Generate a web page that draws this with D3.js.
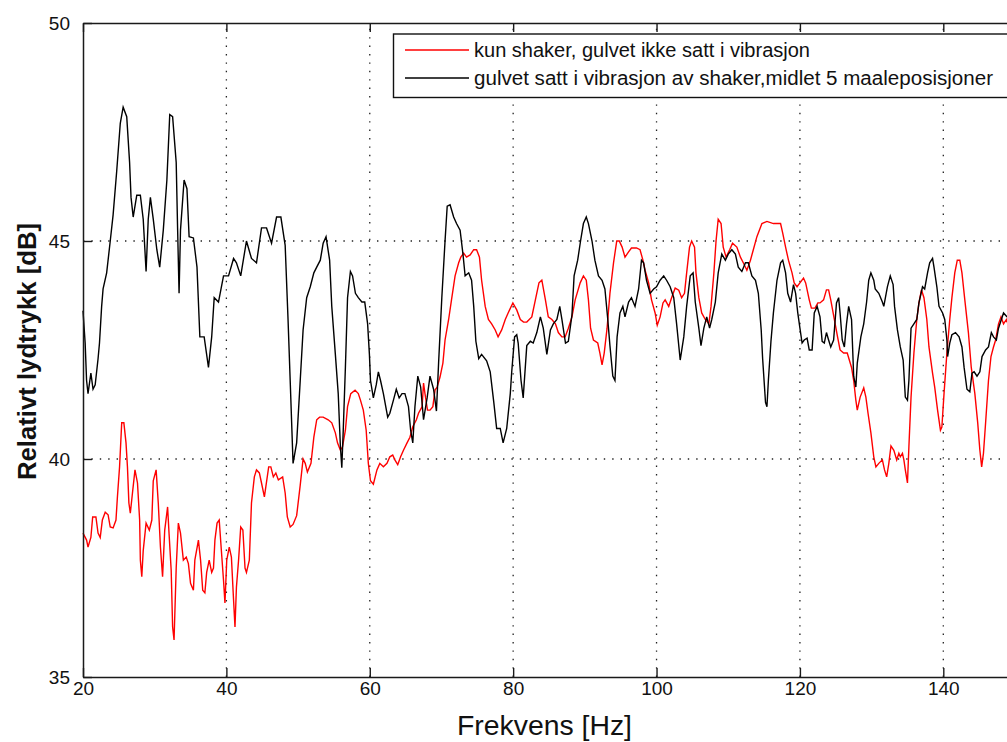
<!DOCTYPE html>
<html>
<head>
<meta charset="utf-8">
<script src="https://cdn.jsdelivr.net/npm/d3@7"></script>
<style>
  html, body { margin: 0; padding: 0; background: #fff; overflow: hidden; }
  svg { display: block; font-family: "Liberation Sans", Arial, sans-serif; }
</style>
</head>
<body>
<svg id="chart" width="1007" height="742"></svg>
<script>
// Series 1: shaker only, floor not excited
const freqRed = [20.0,20.5,20.7,21.1,21.35,21.8,22.1,22.4,22.7,23.1,23.5,23.8,24.2,24.6,24.8,25.1,25.4,25.7,26.0,26.2,26.4,26.6,26.9,27.25,27.6,27.9,28.0,28.2,28.4,28.8,29.25,29.6,29.8,30.2,30.5,30.8,31.1,31.4,31.8,32.0,32.3,32.5,32.7,33.0,33.3,33.6,34.0,34.4,34.7,35.0,35.4,35.6,36.1,36.4,36.7,37.0,37.25,37.6,37.95,38.2,38.4,38.7,39.0,39.3,39.6,39.8,40.05,40.4,40.7,41.0,41.2,41.4,41.7,42.0,42.3,42.6,42.8,43.2,43.5,43.9,44.2,44.6,44.9,45.3,45.5,45.9,46.2,46.55,46.9,47.25,47.85,48.2,48.5,48.9,49.3,49.8,50.3,50.7,51.0,51.3,51.8,52.2,52.6,53.0,53.5,54.2,54.7,55.2,55.5,55.9,56.2,56.6,56.9,57.35,57.95,58.4,58.7,59.1,59.5,59.8,60.1,60.5,61.0,61.4,61.9,62.4,62.8,63.2,63.5,63.9,64.3,64.7,65.2,65.6,66.0,66.5,66.8,67.3,67.5,67.7,68.05,68.4,68.8,69.1,69.4,69.8,70.2,70.5,71.0,71.4,71.9,72.4,72.7,73.1,73.5,74.0,74.5,74.9,75.3,75.6,76.1,76.55,77.0,77.5,77.9,78.4,78.9,79.3,79.96,80.5,81.0,81.45,81.9,82.6,83.1,83.6,84.0,84.5,84.9,85.4,85.9,86.3,86.8,87.25,87.7,88.2,88.65,89.35,89.8,90.2,90.5,90.8,91.2,91.8,92.1,92.4,92.7,93.1,93.5,94.0,94.45,94.8,95.2,95.6,96.1,96.5,97.2,97.7,98.1,98.4,98.9,99.3,99.8,100.1,100.5,100.9,101.2,101.7,102.1,102.6,103.1,103.5,103.9,104.2,104.6,104.9,105.3,105.5,105.9,106.3,106.8,107.3,107.6,108.0,108.3,108.6,109.0,109.3,109.7,110.2,110.6,111.2,111.7,112.1,112.6,113.1,113.5,114.0,114.7,115.4,116.3,117.3,117.6,118.0,118.4,118.9,119.2,119.6,120.0,120.5,120.8,121.3,121.6,122.1,122.5,122.8,123.3,123.7,124.0,124.3,124.8,125.25,125.6,126.1,126.6,127.2,127.5,127.8,128.0,128.4,128.9,129.2,129.5,129.9,130.3,130.6,131.0,131.5,131.8,132.1,132.4,132.7,133.1,133.5,133.8,134.0,134.3,134.5,134.7,135.0,135.2,135.5,135.9,136.3,136.6,136.95,137.3,137.7,138.0,138.5,138.8,139.2,139.6,139.8,140.1,140.5,140.9,141.2,141.6,141.95,142.3,142.6,143.0,143.5,143.9,144.4,144.8,145.1,145.35,145.6,145.9,146.3,146.65,147.0,147.3,147.7,148.05,148.4,148.8,149.0,150.0];
const dbRed = [38.3,38.14,37.98,38.2,38.67,38.67,38.3,38.2,38.6,38.78,38.72,38.44,38.42,38.6,39.13,39.82,40.83,40.83,40.37,39.82,38.99,38.76,39.22,39.75,39.45,38.6,37.68,37.3,37.9,38.53,38.37,38.6,39.5,39.75,38.99,37.98,37.3,38.37,38.9,38.3,37.45,36.15,35.85,37.5,38.53,38.3,37.68,37.75,37.6,37.15,36.99,37.68,38.14,37.68,36.99,36.93,37.4,37.68,37.4,37.5,38.14,38.53,38.6,37.9,37.22,36.7,37.68,37.98,37.75,36.77,36.15,37.06,37.68,38.44,38.37,37.5,37.4,37.68,38.99,39.59,39.75,39.68,39.45,39.13,39.36,39.82,39.82,39.59,39.68,39.52,39.59,39.22,38.67,38.44,38.5,38.7,39.4,40.0,39.9,39.7,39.9,40.5,40.9,40.96,40.96,40.9,40.83,40.6,40.37,40.2,40.28,40.66,41.2,41.5,41.58,41.5,41.35,41.12,40.66,39.9,39.5,39.42,39.75,39.9,39.82,39.9,40.05,40.09,39.98,39.87,40.05,40.2,40.37,40.5,40.74,40.9,41.05,41.2,41.74,41.5,41.12,41.12,41.2,41.58,41.65,41.88,42.2,42.73,43.2,43.65,44.2,44.5,44.63,44.72,44.63,44.68,44.8,44.8,44.63,44.1,43.5,43.2,43.1,42.96,42.8,42.96,43.2,43.35,43.58,43.42,43.2,43.14,43.14,43.26,43.65,44.04,44.1,43.65,43.26,43.2,43.1,42.9,42.8,42.8,43.0,43.26,43.65,44.04,44.2,44.1,43.65,43.0,42.73,42.66,42.43,42.16,42.43,43.0,43.8,44.5,45.0,45.0,44.86,44.63,44.75,44.84,44.84,44.8,44.56,44.33,44.04,43.65,43.35,43.07,43.26,43.58,43.65,43.5,43.7,43.92,43.87,43.7,43.8,44.27,44.86,45.0,44.86,44.27,43.7,43.35,43.2,43.1,43.5,44.27,45.0,45.5,45.4,44.86,44.63,44.8,44.95,44.86,44.63,44.5,44.33,44.56,44.8,45.1,45.4,45.45,45.4,45.4,45.18,44.86,44.56,44.27,44.04,43.95,44.04,44.15,44.04,43.65,43.46,43.46,43.58,43.58,43.65,43.88,43.88,43.65,43.2,42.8,42.5,42.43,42.43,42.1,41.8,41.35,41.12,41.42,41.63,41.42,41.05,40.6,40.05,39.82,39.9,39.98,39.75,39.59,39.9,40.3,40.2,39.98,40.13,40.05,40.13,39.98,39.75,39.45,40.28,41.42,42.43,43.2,43.58,43.88,43.7,43.2,42.57,41.97,41.65,41.12,40.66,40.73,41.5,42.43,43.2,43.7,44.27,44.56,44.56,44.27,43.65,42.9,42.1,41.5,40.83,40.2,39.82,40.13,40.83,41.8,42.35,42.57,42.73,43.1,43.26,43.1,43.2,43.1,43.2];

// Series 2: floor excited by shaker, mean of 5 positions
const freqBlack = [20.0,20.3,20.5,20.7,21.1,21.4,21.7,22.1,22.3,22.6,22.8,23.3,23.8,24.2,24.7,25.2,25.6,26.1,26.5,26.7,27.0,27.5,28.0,28.4,28.8,29.1,29.4,29.8,30.3,30.7,31.2,31.7,32.1,32.5,33.0,33.2,33.4,33.6,34.1,34.5,34.8,35.4,35.9,36.3,36.9,37.5,37.95,38.3,38.9,39.6,40.3,41.0,41.4,42.0,42.8,43.5,44.2,44.9,45.6,46.3,47.0,47.6,48.2,48.6,48.9,49.3,49.8,50.3,50.7,51.2,51.7,52.2,52.6,53.1,53.5,53.9,54.4,54.7,55.2,55.6,55.9,56.1,56.3,56.6,56.9,57.3,57.6,58.0,58.4,58.9,59.3,59.7,59.95,60.1,60.5,60.9,61.2,61.5,61.9,62.5,62.8,63.3,63.7,64.1,64.5,64.9,65.4,65.7,66.0,66.3,66.7,67.1,67.5,68.0,68.4,68.9,69.3,69.6,70.05,70.5,70.8,71.2,71.7,72.1,72.6,73.0,73.3,73.8,74.2,74.5,74.8,75.2,75.6,76.3,76.8,77.3,77.7,78.2,78.6,79.1,79.6,79.8,80.2,80.5,80.7,81.1,81.4,81.9,82.4,82.8,83.3,83.8,84.2,84.7,85.2,85.6,86.1,86.5,86.8,87.3,87.7,88.2,88.5,89.0,89.4,89.8,90.2,90.5,91.0,91.4,91.9,92.4,92.8,93.2,93.5,93.9,94.2,94.5,94.9,95.3,95.6,96.1,96.5,97.0,97.5,97.9,98.2,98.6,99.1,99.6,100.0,100.5,101.0,101.4,101.9,102.4,102.8,103.3,103.8,104.2,104.7,105.1,105.4,105.9,106.2,106.6,107.0,107.4,107.7,108.2,108.6,109.1,109.6,110.0,110.5,111.0,111.4,111.9,112.4,112.8,113.3,113.8,114.2,114.6,114.8,115.2,115.4,115.6,115.96,116.3,116.8,117.3,117.6,118.0,118.3,118.7,119.1,119.4,119.7,120.0,120.3,120.6,121.0,121.3,121.7,122.0,122.4,122.8,123.1,123.4,123.7,124.0,124.3,124.7,125.1,125.4,125.6,125.9,126.2,126.5,126.8,127.2,127.5,127.8,128.0,128.5,128.9,129.3,129.6,129.9,130.3,130.5,131.0,131.5,131.7,132.2,132.6,133.0,133.2,133.6,134.0,134.4,134.7,135.0,135.2,135.5,135.9,136.3,136.6,137.1,137.4,137.8,138.1,138.5,138.7,139.1,139.4,139.9,140.2,140.5,140.6,140.9,141.2,141.7,142.2,142.6,142.9,143.3,143.7,144.0,144.3,144.7,145.1,145.4,145.9,146.3,146.7,147.0,147.4,147.7,148.1,148.4,148.9,149.5,150.0];
const dbBlack = [43.4,42.66,41.8,41.5,41.97,41.6,41.7,42.3,42.66,43.5,43.9,44.27,45.0,45.6,46.6,47.7,48.07,47.85,46.8,46.0,45.55,46.05,46.05,45.5,44.3,45.5,46.0,45.5,44.8,44.4,45.25,46.4,47.9,47.85,46.8,45.25,43.8,45.25,46.4,46.2,45.1,45.07,44.4,42.8,42.8,42.1,42.8,43.7,43.6,44.2,44.2,44.6,44.5,44.2,45.0,44.6,44.5,45.3,45.3,44.95,45.55,45.55,44.9,43.2,41.8,39.9,40.37,41.8,42.96,43.7,43.95,44.27,44.4,44.56,44.95,45.1,44.56,43.5,42.4,41.5,40.3,39.8,40.66,42.1,43.7,44.3,44.2,43.8,43.7,43.6,43.6,43.1,42.4,41.8,41.4,41.7,42.0,41.8,41.5,40.96,41.05,41.35,41.6,41.4,41.5,41.5,41.2,40.66,40.37,41.2,41.9,41.65,40.9,41.4,41.9,41.6,41.1,42.2,43.7,45.0,45.8,45.83,45.55,45.4,45.25,44.7,44.2,44.27,44.1,43.5,42.7,42.3,42.4,42.25,42.0,41.3,40.7,40.7,40.37,40.7,41.5,42.0,42.8,42.85,42.66,41.8,41.4,42.6,42.7,42.66,42.9,43.26,43.0,42.4,42.96,43.1,43.2,43.5,43.2,42.66,42.7,43.3,44.2,44.56,45.0,45.4,45.55,45.4,45.0,44.56,44.2,44.1,43.9,43.2,42.6,41.9,41.8,42.8,43.35,43.5,43.26,43.6,43.7,43.5,43.9,44.56,44.5,44.1,43.8,43.9,43.95,44.1,44.2,44.1,43.95,43.7,43.1,42.27,42.8,43.5,44.2,44.27,43.6,43.0,42.6,43.0,43.26,43.0,43.2,43.6,44.27,44.7,44.56,44.7,44.8,44.7,44.4,44.3,44.5,44.5,44.2,44.1,43.8,42.96,42.3,41.3,41.2,41.8,42.7,43.35,44.1,44.5,44.56,44.27,43.8,43.6,44.0,43.8,43.35,43.0,42.66,42.73,42.77,42.5,42.5,43.35,43.5,43.26,42.7,42.66,42.9,42.73,42.57,42.73,43.58,43.7,43.35,42.73,42.57,43.1,43.5,43.2,41.9,41.65,42.2,42.8,43.1,43.6,44.1,44.27,44.1,43.9,43.8,43.6,43.5,43.95,44.2,44.0,43.5,42.96,42.57,42.27,41.42,41.35,41.8,43.0,43.1,43.2,43.58,43.95,43.9,44.27,44.5,44.6,44.4,43.95,43.5,43.35,43.2,42.73,42.35,42.66,42.85,42.9,42.8,42.57,42.1,41.6,41.54,41.97,42.0,41.9,42.0,42.35,42.5,42.57,42.9,42.8,42.73,43.0,43.2,43.35,43.26,43.2,43.3];

const xTicks = [20, 40, 60, 80, 100, 120, 140];
const yTicks = [35, 40, 45, 50];
const seriesNames = [
  "kun shaker, gulvet ikke satt i vibrasjon",
  "gulvet satt i vibrasjon av shaker,midlet 5 maaleposisjoner"
];
const seriesColors = ["#ff0000", "#000000"];

const svg = d3.select("#chart");
const plot = { left: 83, top: 23, right: 1015, bottom: 677 };

const x = d3.scaleLinear().domain([20, 150]).range([plot.left, plot.right]);
const y = d3.scaleLinear().domain([35, 50]).range([plot.bottom, plot.top]);

svg.append("rect").attr("width", 1007).attr("height", 742).attr("fill", "#fff");

// dotted grid
const grid = svg.append("g")
  .attr("stroke", "#222").attr("stroke-width", 1.3)
  .attr("stroke-dasharray", "1.4 7");
grid.selectAll("line.gx").data(xTicks.filter(d => d > 20)).join("line")
  .attr("x1", d => x(d)).attr("x2", d => x(d))
  .attr("y1", plot.bottom).attr("y2", plot.top);
grid.selectAll("line.gy").data(yTicks.filter(d => d > 35 && d < 50)).join("line")
  .attr("x1", plot.left).attr("x2", plot.right)
  .attr("y1", d => y(d)).attr("y2", d => y(d));

// curves
const line = d3.line().x(d => x(d[0])).y(d => y(d[1]));
const redPts = d3.zip(freqRed, dbRed);
const blackPts = d3.zip(freqBlack, dbBlack);
svg.append("path").datum(redPts).attr("d", line)
  .attr("fill", "none").attr("stroke", seriesColors[0]).attr("stroke-width", 1.4)
  .attr("stroke-linejoin", "miter");
svg.append("path").datum(blackPts).attr("d", line)
  .attr("fill", "none").attr("stroke", seriesColors[1]).attr("stroke-width", 1.4)
  .attr("stroke-linejoin", "miter");

// axes with inward ticks
const tickLen = 9;
const axisColor = "#1a1a1a";
const xBottom = d3.axisBottom(x).tickValues(xTicks).tickSizeInner(-tickLen).tickSizeOuter(0).tickPadding(14);
const gB = svg.append("g").attr("transform", `translate(0,${plot.bottom})`).call(xBottom);
const xTop = d3.axisTop(x).tickValues(xTicks).tickSizeInner(-tickLen).tickSizeOuter(0).tickFormat("");
const gT = svg.append("g").attr("transform", `translate(0,${plot.top})`).call(xTop);
const yLeft = d3.axisLeft(y).tickValues(yTicks).tickSizeInner(-tickLen).tickSizeOuter(0).tickPadding(13);
const gL = svg.append("g").attr("transform", `translate(${plot.left},0)`).call(yLeft);

[gB, gT, gL].forEach(g => {
  g.select(".domain").attr("stroke", axisColor).attr("stroke-width", 1.5);
  g.selectAll(".tick line").attr("stroke", axisColor).attr("stroke-width", 1.4);
  g.selectAll(".tick text")
    .attr("fill", "#111")
    .style("font-family", '"Liberation Sans", Arial, sans-serif')
    .style("font-size", "19px");
});
gB.selectAll(".tick text").attr("dy", "0.2em");
gL.selectAll(".tick text").attr("dy", "0.36em");

// axis titles
svg.append("text")
  .attr("x", 457).attr("y", 735)
  .attr("textLength", 175).attr("lengthAdjust", "spacingAndGlyphs")
  .style("font-size", "28px").attr("fill", "#111")
  .text("Frekvens [Hz]");

svg.append("text")
  .attr("transform", "translate(36,480) rotate(-90)")
  .attr("textLength", 257).attr("lengthAdjust", "spacingAndGlyphs")
  .style("font-size", "25px").style("font-weight", "bold").attr("fill", "#111")
  .text("Relativt lydtrykk [dB]");

// legend
const leg = svg.append("g");
leg.append("rect")
  .attr("x", 393.5).attr("y", 34).attr("width", 640).attr("height", 63.5)
  .attr("fill", "#fff").attr("stroke", "#111").attr("stroke-width", 1.4);
const legRows = [50, 78];
const legWidths = [336, 519];
seriesNames.forEach((name, i) => {
  leg.append("line")
    .attr("x1", 405).attr("x2", 469)
    .attr("y1", legRows[i]).attr("y2", legRows[i])
    .attr("stroke", seriesColors[i]).attr("stroke-width", 1.4);
  leg.append("text")
    .attr("x", 474).attr("y", legRows[i] + 7)
    .attr("textLength", legWidths[i]).attr("lengthAdjust", "spacingAndGlyphs")
    .style("font-size", "20px").attr("fill", "#111")
    .text(name);
});
</script>
</body>
</html>
